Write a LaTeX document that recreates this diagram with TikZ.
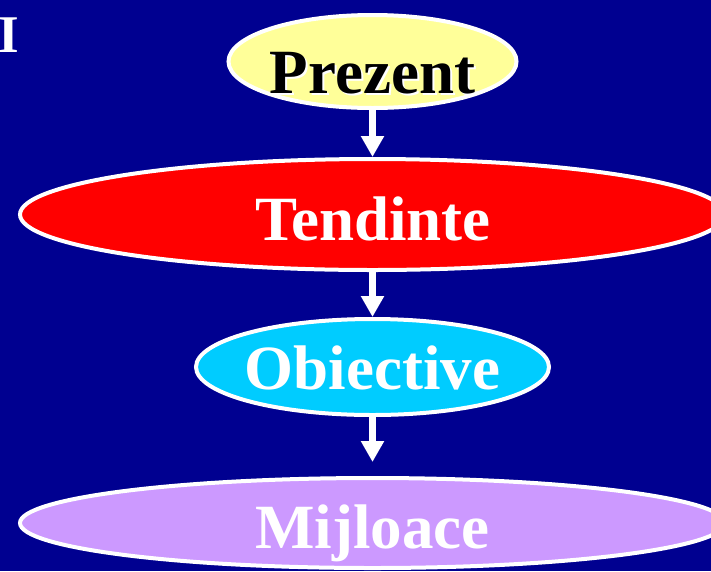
\documentclass[tikz,border=0pt]{standalone}
\usepackage{fontspec}
\setmainfont{Liberation Serif}
\usetikzlibrary{shapes.geometric,arrows.meta}
\definecolor{bgblue}{RGB}{0,0,144}
\definecolor{yel}{RGB}{255,255,153}
\definecolor{redc}{RGB}{255,0,0}
\definecolor{cyanc}{RGB}{0,204,255}
\definecolor{lav}{RGB}{204,153,255}
\tikzset{
  oval/.style={ellipse, draw=white, line width=4pt, inner sep=0pt},
  lbl/.style={anchor=base, inner sep=0pt, font=\fontsize{63}{63}\selectfont\bfseries},
  flow/.style={draw=white, line width=7pt, -{Triangle[width=22pt,length=21pt]}}
}
\begin{document}
\begin{tikzpicture}[x=1pt,y=-1pt]
\fill[bgblue] (0,0) rectangle (711,571);
\useasboundingbox (0,0) rectangle (711,571);
\node[anchor=base west, inner sep=0pt, text=white, font=\fontsize{53}{53}\selectfont\bfseries] (roman) at (-2,52) {I};
\node[oval, fill=yel, minimum width=288pt, minimum height=93pt] (P) at (372.5,61.5) {};
\node[oval, fill=redc, minimum width=705pt, minimum height=111pt] (T) at (372.5,214.5) {};
\node[oval, fill=cyanc, minimum width=353pt, minimum height=96pt] (O) at (372.5,367) {};
\node[oval, fill=lav, minimum width=705pt, minimum height=90pt] (M) at (372.5,523) {};
\node[lbl, text=white] (Pshadow) at (374.5,95) {Prezent};
\node[lbl, text=black] (Ptext) at (372.5,93) {Prezent};
\node[lbl, text=white] (Ttext) at (373,240) {Tendinte};
\node[lbl, text=white] (Otext) at (372.5,389) {Obiective};
\node[lbl, text=white] (Mtext) at (372.5,548) {Mijloace};
\draw[flow] (P.south) -- (T.north);
\draw[flow] (T.south) -- (O.north);
\draw[flow, shorten >=14pt] (O.south) -- (M.north);
\end{tikzpicture}
\end{document}
